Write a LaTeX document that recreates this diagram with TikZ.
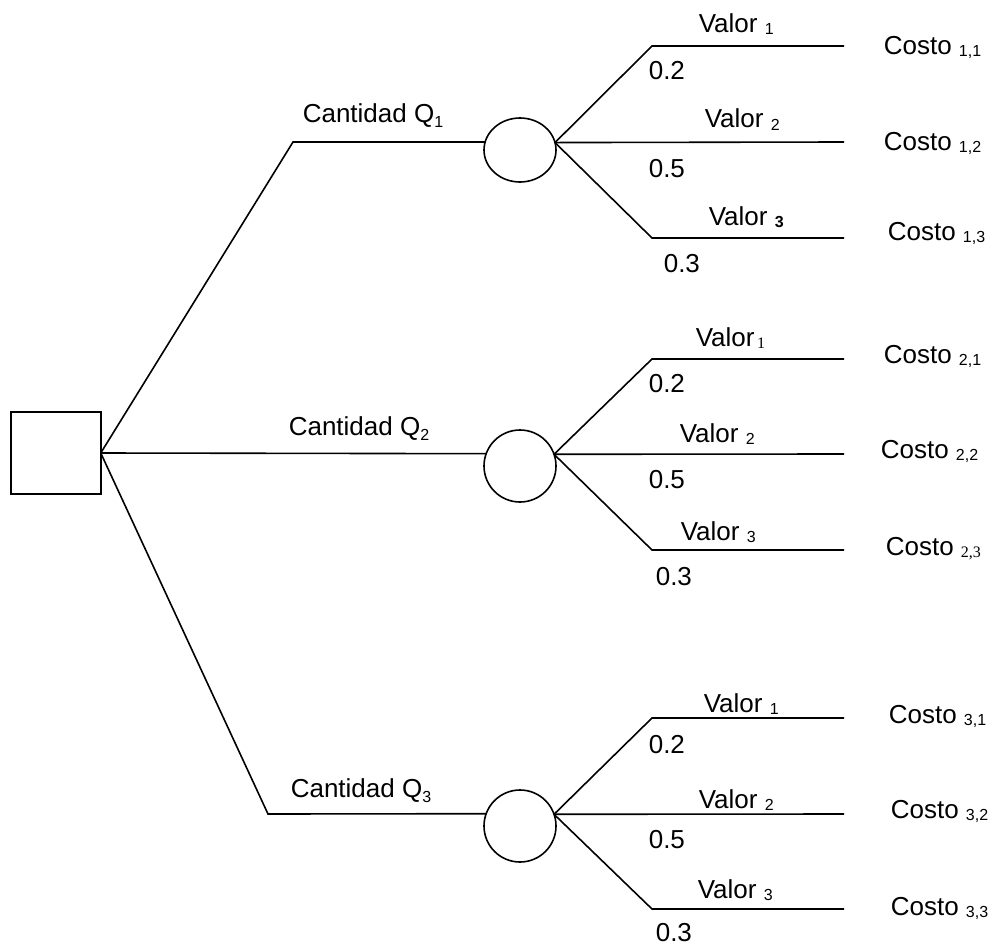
\documentclass[tikz,border=0pt]{standalone}
\usepackage{fontspec}
\setmainfont{Liberation Sans}
\newfontfamily\serifr{Liberation Serif}
\usetikzlibrary{shapes.geometric}
\newcommand{\sbs}[1]{\raisebox{-2pt}{\fontsize{16}{16}\selectfont #1}}
\newcommand{\sbq}[1]{\raisebox{-5pt}{\fontsize{16}{16}\selectfont #1}}
\begin{document}
\begin{tikzpicture}[x=1pt,y=-1pt,line width=1.6pt,
  lbl/.style={anchor=base west,inner sep=0pt,font=\fontsize{26}{30}\selectfont},
  chance/.style={draw,ellipse,inner sep=0pt,outer sep=0pt,minimum width=72pt,minimum height=#1},
  decision/.style={draw,rectangle,inner sep=0pt,outer sep=0pt,minimum width=89.5pt,minimum height=82.3pt}]
\useasboundingbox (0,0) rectangle (995,947);

\node[decision] (sq) at (56,453) {};

\node[chance=64pt] (c1) at (520,150) {};
\node[chance=72pt] (c2) at (520,466) {};
\node[chance=72pt] (c3) at (520,826) {};

\coordinate (q1) at (293,142);
\coordinate (q3) at (268,814);

\draw (sq.east) -- (q1) -- (c1.167.1);
\draw (sq.east) -- (c2.160.5);
\draw (sq.east) -- (q3) -- (c3.160.5);

% branches group 1
\coordinate (b11) at (652,46);  \coordinate (e11) at (844,46);
\coordinate (e12) at (844,142);
\coordinate (b13) at (652,238); \coordinate (e13) at (844,238);
\draw (c1.12.9) -- (b11) -- (e11);
\draw (c1.12.9) -- (e12);
\draw (c1.12.9) -- (b13) -- (e13);

% group 2
\coordinate (b21) at (652,359); \coordinate (e21) at (844,359);
\coordinate (e22) at (844,454);
\coordinate (b23) at (652,550); \coordinate (e23) at (844,550);
\draw (c2.19.5) -- (b21) -- (e21);
\draw (c2.19.5) -- (e22);
\draw (c2.19.5) -- (b23) -- (e23);

% group 3
\coordinate (b31) at (652,718); \coordinate (e31) at (844,718);
\coordinate (e32) at (844,814);
\coordinate (b33) at (652,909); \coordinate (e33) at (844,909);
\draw (c3.19.5) -- (b31) -- (e31);
\draw (c3.19.5) -- (e32);
\draw (c3.19.5) -- (b33) -- (e33);

% labels
\node[lbl] (lq1) at (302,123) {Cantidad Q\sbq{1}};
\node[lbl] (lq2) at (288,435) {Cantidad Q\sbq{2}};
\node[lbl] (lq3) at (290,797) {Cantidad Q\sbq{3}};

\node[lbl] (v11) at (698,33) {Valor \sbs{1}};
\node[lbl] (p11) at (648,80) {0.2};
\node[lbl] (v12) at (704,128) {Valor \sbs{2}};
\node[lbl] (p12) at (648,177) {0.5};
\node[lbl] (v13) at (708,225) {Valor \sbs{\textbf{3}}};
\node[lbl] (p13) at (663,272) {0.3};
\node[lbl] (k11) at (883,55) {Costo \sbs{1,1}};
\node[lbl] (k12) at (883,150) {Costo \sbs{1,2}};
\node[lbl] (k13) at (887,240) {Costo \sbs{1,3}};

\node[lbl] (v21) at (695,346) {Valor\sbs{\,\serifr 1}};
\node[lbl] (p21) at (648,392) {0.2};
\node[lbl] (v22) at (679,442) {Valor \sbs{2}};
\node[lbl] (p22) at (648,488) {0.5};
\node[lbl] (v23) at (680,540) {Valor \sbs{3}};
\node[lbl] (p23) at (655,585) {0.3};
\node[lbl] (k21) at (883,363) {Costo \sbs{2,1}};
\node[lbl] (k22) at (880,458) {Costo \sbs{2,2}};
\node[lbl] (k23) at (885,555) {Costo \sbs{\serifr 2,3}};

\node[lbl] (v31) at (703,712) {Valor \sbs{1}};
\node[lbl] (p31) at (648,753) {0.2};
\node[lbl] (v32) at (698,808) {Valor \sbs{2}};
\node[lbl] (p32) at (648,848) {0.5};
\node[lbl] (v33) at (697,898) {Valor \sbs{3}};
\node[lbl] (p33) at (655,941) {0.3};
\node[lbl] (k31) at (888,723) {Costo \sbs{3,1}};
\node[lbl] (k32) at (890,818) {Costo \sbs{3,2}};
\node[lbl] (k33) at (890,915) {Costo \sbs{3,3}};
\end{tikzpicture}
\end{document}
